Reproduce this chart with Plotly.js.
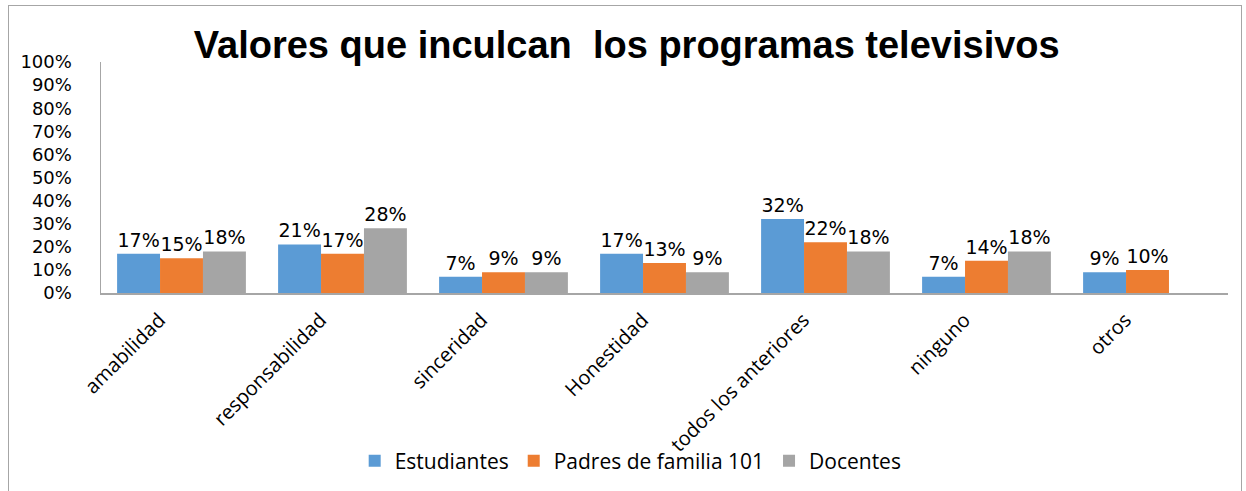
<!DOCTYPE html>
<html><head><meta charset="utf-8">
<script src="https://cdn.plot.ly/plotly-3.0.1.min.js"></script>
<style>
html,body{margin:0;padding:0;background:#fff;}
#wrap{position:relative;width:1246px;height:491px;}
#chart{width:1246px;height:491px;}
#frame{position:absolute;left:8px;top:5px;width:1234px;height:500px;border:1.5px solid #a6a6a6;pointer-events:none;box-sizing:border-box;}
</style>
</head><body>
<div id="wrap"><div id="chart"></div><div id="frame"></div></div>
<script>
const categories = ["amabilidad","responsabilidad","sinceridad","Honestidad","todos los anteriores","ninguno","otros"];
const estudiantes = [0.17,0.21,0.07,0.17,0.32,0.07,0.09];
const padres = [0.15,0.17,0.09,0.13,0.22,0.14,0.10];
const docentes = [0.18,0.28,0.09,0.09,0.18,0.18,null];
const seriesNames = ["Estudiantes","Padres de familia 101","Docentes"];
const colors = ["#5B9BD5","#ED7D31","#A5A5A5"];
const yTicks = [0,0.1,0.2,0.3,0.4,0.5,0.6,0.7,0.8,0.9,1.0];

const allSeries = [estudiantes,padres,docentes];
const traces = allSeries.map((vals,i)=>({
  type:'bar', x:categories, y:vals, name:seriesNames[i],
  marker:{color:colors[i], line:{width:0}},
  text: vals.map(v=> v==null ? '' : Math.round(v*100)+'%'),
  textposition:'outside', cliponaxis:false,
  textfont:{family:'DejaVu Sans', size:19, color:'#000'},
  hoverinfo:'skip'
}));

const layout = {
  width:1246, height:491,
  margin:{l:101, r:18, t:62, b:197, pad:0},
  paper_bgcolor:'#fff', plot_bgcolor:'#fff',
  barmode:'group', bargap:0.2, bargroupgap:0,
  title:{text:'Valores que inculcan \u00a0los programas televisivos',
    font:{family:'Liberation Sans, Arial', size:38, color:'#000', weight:'bold'},
    x:0.503, xref:'container', y:0.908, yref:'container', xanchor:'center', yanchor:'middle'},
  xaxis:{type:'category', showline:true, linecolor:'#a6a6a6', linewidth:1.5,
    ticks:'', tickangle:-45, showgrid:false,
    tickfont:{family:'Open Sans', size:20, color:'#000'},
    ticklabelshift:-22, ticklabelstandoff:6, automargin:false},
  yaxis:{range:[0,1], tickvals:yTicks, tickformat:'.0%', showline:true, linecolor:'#a6a6a6', linewidth:1.5,
    showgrid:false, zeroline:false, ticks:'',
    ticklabelstandoff:24,
    tickfont:{family:'DejaVu Sans', size:18, color:'#000'}, automargin:false},
  showlegend:true,
  legend:{orientation:'h', x:0.47, xanchor:'center', y:-0.72, yanchor:'middle',
    font:{family:'Open Sans', size:21, color:'#000'}, itemwidth:30, tracegroupgap:0,
    bgcolor:'rgba(0,0,0,0)'}
};
Plotly.newPlot('chart', traces, layout, {staticPlot:true, displayModeBar:false});
</script>
</body></html>
